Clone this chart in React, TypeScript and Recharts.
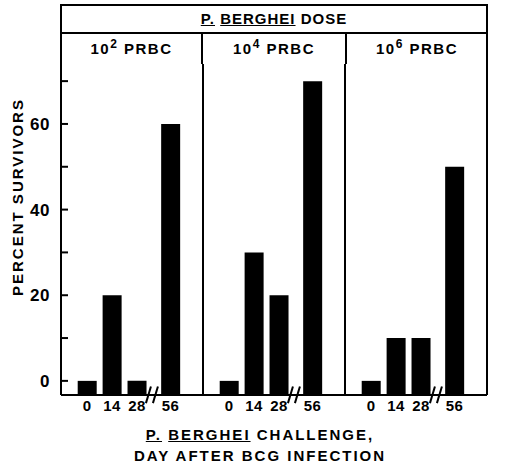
import React from "react";
import { BarChart, Bar, XAxis, YAxis, ReferenceLine } from "recharts";

const challengeDays = ["0", "14", "28", "56"];
const doseExponents = ["2", "4", "6"];
const survivorsDose2 = [0, 20, 0, 60];
const survivorsDose4 = [0, 30, 20, 70];
const survivorsDose6 = [0, 10, 10, 50];
const yTicks = [0, 10, 20, 30, 40, 50, 60, 70];

// broken x axis: where each challenge day sits inside one dose panel (in slot units)
const daySlots = [1.05, 2.05, 3.05, 4.4];
const PANEL = 5.7;
const BREAK_AT = 3.65;
const Y_MIN = -3.3;
const Y_MAX = 74;

const FONT = "'Liberation Sans', Arial, sans-serif";

const series = [survivorsDose2, survivorsDose4, survivorsDose6];
const rows = series.flatMap((vals, p) =>
  vals.map((v, i) => ({ pos: p * PANEL + daySlots[i], day: challengeDays[i], survivors: v }))
);

function dayAt(v: number) {
  const r = rows.find((row) => Math.abs(row.pos - v) < 0.01);
  return r ? r.day : "";
}

function YTick(props: any) {
  const { x, y, payload, side } = props;
  const left = side === "left";
  const lx1 = left ? x + 11 : x - 14;
  const lx2 = left ? x + 18 : x - 7;
  const showLabel = payload.value % 20 === 0;
  return (
    <g>
      <line x1={lx1} x2={lx2} y1={y} y2={y} stroke="#000" strokeWidth={2} />
      {showLabel && (
        <text
          x={x}
          y={y}
          dy="0.36em"
          textAnchor={left ? "end" : "start"}
          fontFamily={FONT}
          fontWeight="bold"
          fontSize={17}
          letterSpacing={0.5}
          fill="#000"
        >
          {payload.value}
        </text>
      )}
    </g>
  );
}

const line = "#000";

export default function App() {
  const panelDividers = [PANEL, PANEL * 2];
  const breaks = [0, 1, 2].map((p) => p * PANEL + BREAK_AT);

  return (
    <div style={{ position: "relative", width: 516, height: 467, background: "#fff", fontFamily: FONT }}>
      <style>{"body{margin:0}"}</style>
      <BarChart
        width={516}
        height={467}
        data={rows}
        margin={{ top: 64, right: 0, bottom: 42, left: 0 }}
        barSize={19}
      >
        <XAxis
          dataKey="pos"
          type="number"
          domain={[0, PANEL * 3]}
          ticks={rows.map((r) => r.pos)}
          interval={0}
          tickFormatter={dayAt}
          tickLine={false}
          tickSize={0}
          tickMargin={5}
          height={30}
          axisLine={{ stroke: line, strokeWidth: 2 }}
          tick={{ fill: "#000", fontSize: 15, fontWeight: "bold", fontFamily: FONT, letterSpacing: 0.5 }}
        />
        <YAxis
          yAxisId="left"
          orientation="left"
          width={61}
          domain={[Y_MIN, Y_MAX]}
          ticks={yTicks}
          interval={0}
          tickLine={false}
          tickSize={0}
          tickMargin={11}
          axisLine={{ stroke: line, strokeWidth: 2 }}
          tick={(p: any) => <YTick {...p} side="left" />}
        />
        <YAxis
          yAxisId="right"
          orientation="right"
          width={29}
          domain={[Y_MIN, Y_MAX]}
          ticks={yTicks}
          interval={0}
          tickLine={false}
          tickSize={0}
          tickMargin={7}
          axisLine={{ stroke: line, strokeWidth: 2 }}
          tick={(p: any) => <YTick {...p} side="right" />}
        />
        {panelDividers.map((x) => (
          <ReferenceLine key={x} x={x} yAxisId="left" stroke={line} strokeWidth={2} />
        ))}
        {breaks.flatMap((b) => [
          <ReferenceLine
            key={b + "a"}
            yAxisId="left"
            ifOverflow="visible"
            segment={[{ x: b - 0.24, y: -5.2 }, { x: b - 0.04, y: -1.3 }]}
            stroke={line}
            strokeWidth={2}
          />,
          <ReferenceLine
            key={b + "b"}
            yAxisId="left"
            ifOverflow="visible"
            segment={[{ x: b + 0.04, y: -5.2 }, { x: b + 0.24, y: -1.3 }]}
            stroke={line}
            strokeWidth={2}
          />,
        ])}
        <Bar
          yAxisId="left"
          dataKey={(r: any) => [Y_MIN, r.survivors]}
          fill="#000"
          isAnimationActive={false}
        />
      </BarChart>

      {/* header: dose table */}
      <div
        style={{
          position: "absolute",
          left: 60,
          top: 4,
          width: 428,
          height: 61,
          boxSizing: "border-box",
          border: "2px solid #000",
          borderBottom: "none",
        }}
      />
      <div style={{ position: "absolute", left: 60, top: 32, width: 428, height: 2, background: "#000" }} />
      {[201, 345].map((x) => (
        <div key={x} style={{ position: "absolute", left: x, top: 33, width: 2, height: 31, background: "#000" }} />
      ))}
      <div
        style={{
          position: "absolute",
          left: 60,
          top: 6,
          width: 428,
          height: 26,
          lineHeight: "26px",
          textAlign: "center",
          fontWeight: "bold",
          fontSize: 15,
          letterSpacing: 1,
        }}
      >
        <span style={{ textDecoration: "underline" }}>P.</span>{" "}
        <span style={{ textDecoration: "underline" }}>BERGHEI</span> DOSE
      </div>
      {doseExponents.map((e, i) => (
        <div
          key={e}
          style={{
            position: "absolute",
            left: [62, 203, 347][i],
            top: 34,
            width: [139, 142, 140][i],
            height: 29,
            lineHeight: "29px",
            textAlign: "center",
            fontWeight: "bold",
            fontSize: 15,
            letterSpacing: 1.5,
          }}
        >
          10<sup style={{ fontSize: 12, lineHeight: 0 }}>{e}</sup> PRBC
        </div>
      ))}

      {/* y axis title */}
      <div
        style={{
          position: "absolute",
          left: 17,
          top: 197,
          transform: "translate(-50%, -50%) rotate(-90deg)",
          whiteSpace: "nowrap",
          fontWeight: "bold",
          fontSize: 15,
          letterSpacing: 2,
        }}
      >
        PERCENT SURVIVORS
      </div>

      {/* x axis title */}
      <div
        style={{
          position: "absolute",
          left: 60,
          top: 424,
          width: 400,
          textAlign: "center",
          fontWeight: "bold",
          fontSize: 15,
          letterSpacing: 2,
          lineHeight: "21px",
        }}
      >
        <span style={{ textDecoration: "underline" }}>P.</span>{" "}
        <span style={{ textDecoration: "underline" }}>BERGHEI</span> CHALLENGE,
        <br />
        DAY AFTER BCG INFECTION
      </div>
    </div>
  );
}
